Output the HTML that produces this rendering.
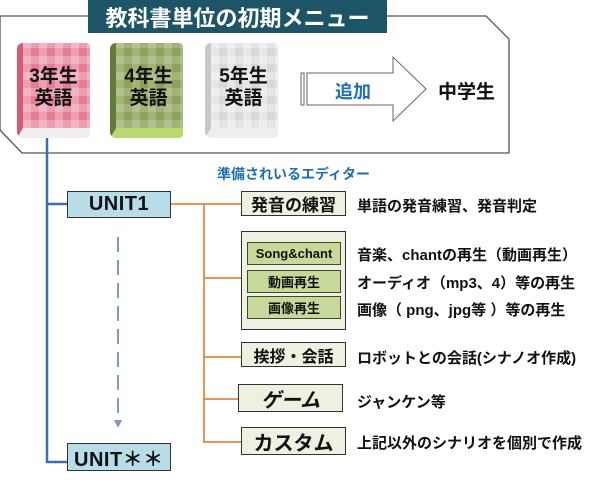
<!DOCTYPE html>
<html><head><meta charset="utf-8">
<style>
body{margin:0;width:600px;height:483px;background:#fff;position:relative;overflow:hidden;font-family:"Liberation Sans","Noto Sans CJK JP",sans-serif;font-weight:bold;color:#111}
.a{position:absolute}
.c{display:flex;align-items:center;justify-content:center;box-sizing:border-box}
.book{position:absolute;width:73px;height:95px;border-radius:6px 4px 4px 6px;box-sizing:border-box}
.bt{position:absolute;left:0;width:73px;text-align:center;font-size:19px;line-height:22px}
.box{position:absolute;background:#eef0e1;border:1px solid #333;box-sizing:border-box;display:flex;align-items:center;justify-content:center;font-size:19px}
.in{position:absolute;left:247px;width:94px;height:23px;background:#c6d89a;border:1.5px solid #3c4a2a;box-sizing:border-box;display:flex;align-items:center;justify-content:center;font-size:13px}
.d{position:absolute;left:357px;font-size:15px;white-space:nowrap}
.unit{position:absolute;left:67px;width:104px;background:#b8dce8;border:1px solid #333;box-sizing:border-box;display:flex;align-items:center;justify-content:center;font-size:20px;letter-spacing:0.5px}
</style></head><body>
<svg class="a" style="left:0;top:0" width="600" height="483">
<polyline points="88,16 0,16 0,130 22,153 509,153 509,39 486,16 387,16" fill="none" stroke="#555" stroke-width="1.3"/>
<rect x="301" y="73" width="3" height="32" fill="#fff" stroke="#666" stroke-width="1"/>
<path d="M307,73 L393,73 L393,57 L426,89 L393,121 L393,105 L307,105 Z" fill="#fff" stroke="#666" stroke-width="1"/>
<path d="M47,138 L47,462 L67,462 M47,204 L67,204" fill="none" stroke="#3f6fa8" stroke-width="2.5"/>
<line x1="118" y1="237" x2="118" y2="420" stroke="#7c9cc4" stroke-width="2" stroke-dasharray="15,8"/>
<path d="M114,420 L118,428 L122,420 Z" fill="#7c9cc4"/>
<path d="M171,204 L241,204 M204,204 L204,442 L241,442 M204,278 L241,278 M204,357 L241,357 M204,399 L238,399" fill="none" stroke="#e08a3c" stroke-width="1.8"/>
</svg>
<div class="a c" style="left:88px;top:0;width:299px;height:33px;background:#1e5566;color:#fff;font-size:22px">教科書単位の初期メニュー</div>

<div class="book" style="left:17px;top:43px;background:repeating-linear-gradient(90deg,rgba(255,255,255,.25) 0 8px,transparent 8px 16px),repeating-linear-gradient(0deg,rgba(255,255,255,.25) 0 8px,transparent 8px 16px),#e57d94;border-bottom:10px solid #f1eef0;border-left:6px solid #d75a74"></div>
<div class="book" style="left:110px;top:43px;background:repeating-linear-gradient(90deg,rgba(255,255,255,.18) 0 8px,transparent 8px 16px),repeating-linear-gradient(0deg,rgba(255,255,255,.18) 0 8px,transparent 8px 16px),#8ca258;border-bottom:10px solid #b8d870;border-left:6px solid #627a3a"></div>
<div class="book" style="left:205px;top:43px;background:repeating-linear-gradient(90deg,rgba(255,255,255,.35) 0 8px,transparent 8px 16px),repeating-linear-gradient(0deg,rgba(255,255,255,.35) 0 8px,transparent 8px 16px),#d8d8d8;border-bottom:10px solid #eee;border-left:6px solid #c8c8c8"></div>
<div class="bt" style="left:17px;top:66px">3年生<br>英語</div>
<div class="bt" style="left:112px;top:66px">4年生<br>英語</div>
<div class="bt" style="left:207px;top:66px">5年生<br>英語</div>
<div class="a" style="left:335px;top:78px;font-size:18px;color:#1f6fb5">追加</div>
<div class="a" style="left:438px;top:77px;font-size:19px">中学生</div>

<div class="a" style="left:217px;top:164px;font-size:14px;color:#1f6fb5">準備されいるエディター</div>
<div class="unit" style="top:191px;height:27px">UNIT1</div>
<div class="unit" style="top:443px;height:28px;justify-content:flex-start;padding-left:6px">UNIT＊＊</div>

<div class="box" style="left:241px;top:191px;width:105px;height:25px;font-size:17px">発音の練習</div>
<div class="box" style="left:241px;top:231px;width:105px;height:99px"></div>
<div class="in" style="top:242px">Song&amp;chant</div>
<div class="in" style="top:270px">動画再生</div>
<div class="in" style="top:296px">画像再生</div>
<div class="box" style="left:241px;top:342px;width:105px;height:25px;font-size:16px">挨拶・会話</div>
<div class="box" style="left:238px;top:384px;width:105px;height:28px;font-size:20px;font-style:italic">ゲーム</div>
<div class="box" style="left:241px;top:427px;width:105px;height:28px;font-size:20px">カスタム</div>

<div class="d" style="top:195px">単語の発音練習、発音判定</div>
<div class="d" style="top:244px">音楽、chantの再生（動画再生）</div>
<div class="d" style="top:272px">オーディオ（mp3、4）等の再生</div>
<div class="d" style="top:299px">画像（ png、jpg等 ）等の再生</div>
<div class="d" style="top:347px">ロボットとの会話(シナノオ作成)</div>
<div class="d" style="top:391px">ジャンケン等</div>
<div class="d" style="top:432px">上記以外のシナリオを個別で作成</div>
</body></html>
